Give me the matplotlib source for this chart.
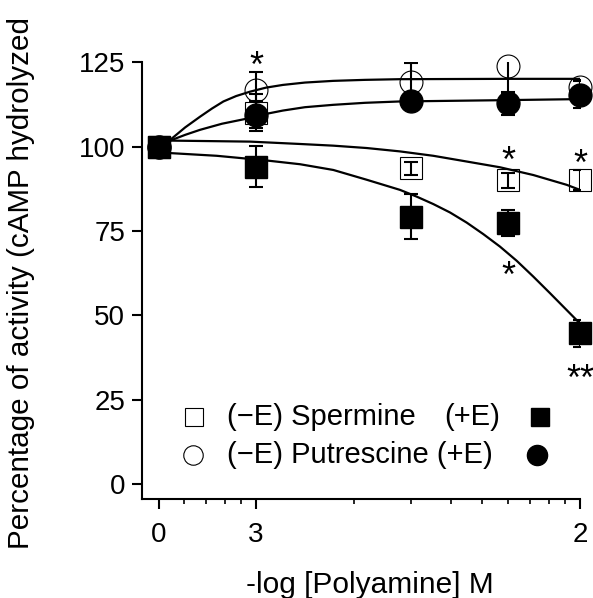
import numpy as np
import matplotlib
matplotlib.use('Agg')
import matplotlib.pyplot as plt
from matplotlib.ticker import LogLocator, NullFormatter

plt.rcParams['font.family'] = ['Liberation Sans', 'DejaVu Sans']

# polyamine concentration (M); the control (no polyamine) sits at the "0" tick
conc = [5e-4, 1e-3, 3e-3, 6e-3, 1e-2]
tick_pos = [5e-4, 1e-3, 1e-2]
tick_lbl = ['0', '3', '2']

# measured activity (% of control) with error bars
sperm_minus = [100, 110.0, 93.6, 90.0, 90.2]
sperm_minus_err = [0, 5.5, 2.0, 2.2, 3.0]
sperm_plus = [100, 94.1, 79.3, 77.3, 44.7]
sperm_plus_err = [0, 6.0, 6.7, 3.8, 4.0]
put_minus = [100, 116.8, 119.3, 123.8, 117.8]
put_minus_err = [0, 5.3, 5.6, 8.0, 2.0]
put_plus = [100, 109.4, 113.4, 112.8, 115.4]
put_plus_err = [0, 4.0, 2.0, 3.5, 4.0]

# fitted curves
fit_x_put_minus = [5.0e-4, 5.43e-4, 6.04e-4, 6.72e-4, 7.31e-4, 7.93e-4, 8.68e-4, 9.58e-4,
                   1.074e-3, 1.21e-3, 1.416e-3, 1.73e-3, 2.17e-3, 2.78e-3, 6e-3, 1e-2]
fit_y_put_minus = [99.5, 102.0, 105.7, 108.9, 111.3, 113.4, 115.0, 116.3,
                   117.5, 118.3, 119.0, 119.5, 119.8, 120.0, 120.1, 120.1]
fit_x_put_plus = [5.0e-4, 5.43e-4, 6.04e-4, 6.72e-4, 7.85e-4, 9.25e-4, 1.059e-3, 1.21e-3,
                  1.416e-3, 1.73e-3, 2.17e-3, 2.78e-3, 6e-3, 1e-2]
fit_y_put_plus = [100.5, 101.8, 103.5, 105.0, 106.8, 108.2, 109.6, 110.7,
                  111.7, 112.4, 113.0, 113.4, 113.8, 114.1]
fit_x_sperm_minus = [5.0e-4, 5.43e-4, 9.58e-4, 1.367e-3, 1.732e-3, 2.196e-3, 2.782e-3, 3.525e-3,
                     4.471e-3, 5.662e-3, 7.178e-3, 9.097e-3, 1e-2]
fit_y_sperm_minus = [101.9, 101.8, 101.5, 100.8, 100.3, 99.6, 98.6, 97.3,
                     95.6, 93.9, 91.6, 88.7, 87.2]
fit_x_sperm_plus = [5.0e-4, 5.43e-4, 7.56e-4, 1.08e-3, 1.367e-3, 1.732e-3, 2.196e-3, 2.782e-3,
                    3.133e-3, 3.525e-3, 3.971e-3, 4.471e-3, 5.029e-3, 5.662e-3, 6.376e-3,
                    7.178e-3, 8.08e-3, 9.097e-3, 9.767e-3, 1e-2]
fit_y_sperm_plus = [98.3, 98.1, 97.3, 95.9, 94.8, 93.1, 90.2, 87.2,
                    85.2, 83.0, 80.5, 77.5, 74.1, 70.4, 66.2,
                    61.5, 56.6, 51.6, 48.6, 47.6]

# significance marks
star_x = [1e-3, 6e-3, 1e-2, 6e-3, 1e-2]
star_y = [127.0, 98.8, 97.8, 64.7, 34.0]
star_txt = ['*', '*', '*', '*', '**']

fig = plt.figure(figsize=(5.93, 5.98), dpi=100)
ax = fig.add_axes([0.239, 0.165, 0.739, 0.7308])

# curves
for fx, fy in [(fit_x_put_minus, fit_y_put_minus), (fit_x_put_plus, fit_y_put_plus),
               (fit_x_sperm_minus, fit_y_sperm_minus), (fit_x_sperm_plus, fit_y_sperm_plus)]:
    ax.plot(fx, fy, color='black', lw=1.6, zorder=2, solid_joinstyle='round')

ms = 16.5
ax.plot(conc, sperm_minus, ls='none', marker='s', ms=ms, mfc='none', mec='black', mew=0.8, zorder=3, clip_on=False)
ax.plot(conc, sperm_plus, ls='none', marker='s', ms=ms - 0.5, mfc='black', mec='black', zorder=4, clip_on=False)
ax.plot(conc, put_minus, ls='none', marker='o', ms=ms, mfc='none', mec='black', mew=0.8, zorder=3, clip_on=False)
ax.plot(conc, put_plus, ls='none', marker='o', ms=ms, mfc='black', mec='black', zorder=4, clip_on=False)

for yv, ye in [(sperm_minus, sperm_minus_err), (sperm_plus, sperm_plus_err),
               (put_minus, put_minus_err), (put_plus, put_plus_err)]:
    ax.errorbar(conc, yv, yerr=ye, fmt='none', ecolor='black', elinewidth=1.5,
                capsize=4.8, capthick=1.5, zorder=5)

fs_star = 26
for sx, sy, st in zip(star_x, star_y, star_txt):
    ax.annotate(st, xy=(sx, sy), xytext=(0, -0.58 * fs_star), textcoords='offset points',
                ha='center', va='baseline', fontsize=fs_star, annotation_clip=False)

ax.set_xscale('log')
ax.set_xlim(4.437e-4, 1e-2)
ax.set_ylim(-4.5, 125)
ax.set_xticks(tick_pos)
ax.set_xticklabels(tick_lbl)
ax.xaxis.set_minor_locator(LogLocator(base=10, subs=np.arange(2, 10)))
ax.xaxis.set_minor_formatter(NullFormatter())
ax.set_yticks([0, 25, 50, 75, 100, 125])

for s in ['top', 'right']:
    ax.spines[s].set_visible(False)
for s in ['left', 'bottom']:
    ax.spines[s].set_linewidth(1.5)

ax.tick_params(axis='y', which='major', length=7.2, width=1.5, pad=4.8, labelsize=20)
ax.tick_params(axis='x', which='major', length=7.2, width=1.5, pad=8.9, labelsize=20)
ax.tick_params(axis='x', which='minor', length=3.6, width=1.2)

ax.set_xlabel('-log [Polyamine] M', fontsize=21.5)
ax.xaxis.set_label_coords(0.521, -0.163)
ax.set_ylabel('Percentage of activity (cAMP hydrolyzed', fontsize=21.3)
ax.yaxis.set_label_coords(-0.243, 0.496)

# legend drawn by hand: open marker, text, filled marker
leg_fs = 21
ax.plot(0.1193, 0.189, marker='s', ms=13, mfc='white', mec='black', mew=0.8,
        transform=ax.transAxes, clip_on=False)
ax.plot(0.1177, 0.1014, marker='o', ms=14, mfc='white', mec='black', mew=0.8,
        transform=ax.transAxes, clip_on=False)
ax.text(0.1953, 0.189, '(\u2212E) Spermine', fontsize=leg_fs, va='center', transform=ax.transAxes)
ax.text(0.6897, 0.189, '(+E)', fontsize=leg_fs, va='center', transform=ax.transAxes)
ax.text(0.1953, 0.1014, '(\u2212E) Putrescine (+E)', fontsize=leg_fs, va='center', transform=ax.transAxes)
ax.plot(0.9087, 0.189, marker='s', ms=13, mfc='black', mec='black',
        transform=ax.transAxes, clip_on=False)
ax.plot(0.9012, 0.1014, marker='o', ms=14.5, mfc='black', mec='black',
        transform=ax.transAxes, clip_on=False)

fig.savefig('out.png', dpi=100)
